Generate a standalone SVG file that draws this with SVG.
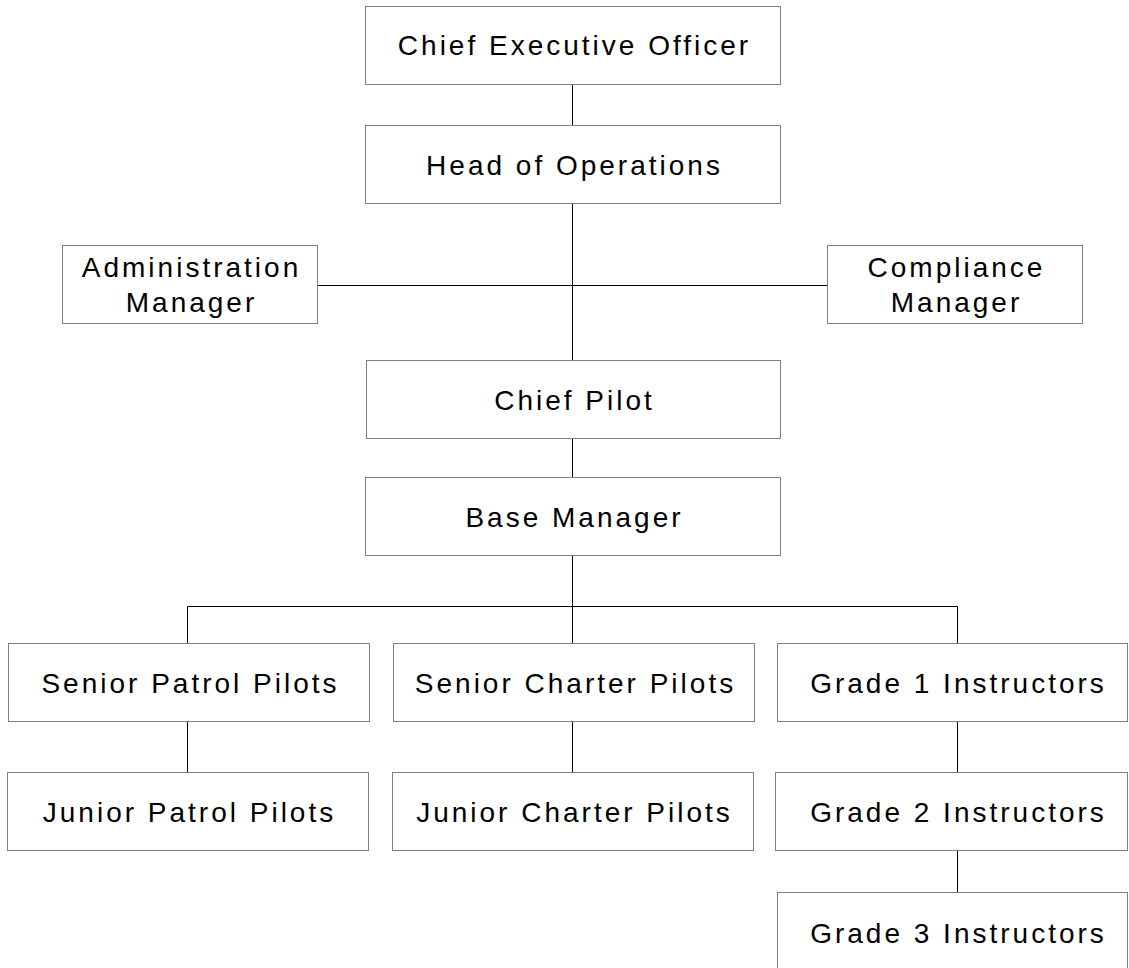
<svg xmlns="http://www.w3.org/2000/svg" width="1129" height="968" viewBox="0 0 1129 968">
<style>
.box{fill:#fff;stroke:#7f7f7f;stroke-width:1}
.lbl{font-family:"Liberation Sans",Arial,sans-serif;font-size:28px;letter-spacing:3px;fill:#000;text-anchor:middle}
.con{stroke:#000;stroke-width:1;fill:none}
</style>
<rect width="1129" height="968" fill="#fff"/>
<g id="connectors">
<path class="con" d="M572.5 85V125.5M572.5 204V360.5M317.5 285.5H827.5M572.5 439V477.5M572.5 556V643.5M187.5 606.5H957.5M187.5 606.5V643.5M957.5 606.5V643.5M187.5 722V772.5M572.5 722V772.5M957.5 722V772.5M957.5 851V892.5"/>
</g>
<g id="ceo"><rect class="box" x="365.5" y="6.5" width="415" height="78"/><text class="lbl" x="574.5" y="55">Chief Executive Officer</text></g>
<g id="head-ops"><rect class="box" x="365.5" y="125.5" width="415" height="78"/><text class="lbl" x="574.5" y="175">Head of Operations</text></g>
<g id="admin"><rect class="box" x="62.5" y="245.5" width="255" height="78"/><text class="lbl" x="191.5" y="277">Administration</text><text class="lbl" x="191.5" y="312">Manager</text></g>
<g id="compliance"><rect class="box" x="827.5" y="245.5" width="255" height="78"/><text class="lbl" x="956.5" y="277">Compliance</text><text class="lbl" x="956.5" y="312">Manager</text></g>
<g id="chief-pilot"><rect class="box" x="366.5" y="360.5" width="414" height="78"/><text class="lbl" x="574.5" y="410">Chief Pilot</text></g>
<g id="base-manager"><rect class="box" x="365.5" y="477.5" width="415" height="78"/><text class="lbl" x="574.5" y="527">Base Manager</text></g>
<g id="senior-patrol"><rect class="box" x="8.5" y="643.5" width="361" height="78"/><text class="lbl" x="190.5" y="693">Senior Patrol Pilots</text></g>
<g id="junior-patrol"><rect class="box" x="7.5" y="772.5" width="361" height="78"/><text class="lbl" x="189.5" y="822">Junior Patrol Pilots</text></g>
<g id="senior-charter"><rect class="box" x="393.5" y="643.5" width="361" height="78"/><text class="lbl" x="575.5" y="693">Senior Charter Pilots</text></g>
<g id="junior-charter"><rect class="box" x="392.5" y="772.5" width="361" height="78"/><text class="lbl" x="574.5" y="822">Junior Charter Pilots</text></g>
<g id="grade1"><rect class="box" x="777.5" y="643.5" width="350" height="78"/><text class="lbl" x="958.5" y="693">Grade 1 Instructors</text></g>
<g id="grade2"><rect class="box" x="775.5" y="772.5" width="352" height="78"/><text class="lbl" x="958.5" y="822">Grade 2 Instructors</text></g>
<g id="grade3"><rect class="box" x="777.5" y="892.5" width="350" height="80"/><text class="lbl" x="958.5" y="943">Grade 3 Instructors</text></g>
</svg>
